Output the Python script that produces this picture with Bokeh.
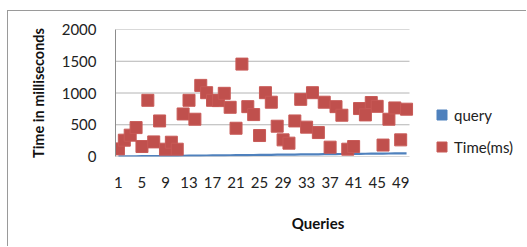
from bokeh.plotting import figure
from bokeh.models import FixedTicker, Legend, LegendItem, ColumnDataSource
from bokeh.embed import file_html
from bokeh.resources import INLINE

queries = list(range(1, 51))
query_vals = list(range(1, 51))
time_ms = [120, 257, 336, 455, 157, 885, 230, 560, 115, 225,
           115, 670, 885, 587, 1120, 1005, 885, 880, 995, 775,
           445, 1455, 785, 660, 330, 1005, 855, 477, 262, 210,
           560, 900, 462, 1005, 377, 855, 147, 785, 650, 115,
           157, 755, 655, 850, 790, 180, 587, 765, 262, 745]
x_ticks = list(range(1, 51, 4))
y_ticks = [0, 500, 1000, 1500, 2000]

FONT = "Lato"
N = len(queries)
X0, X1 = 0.5, N + 0.5
PLOT_W = 294   # width of the category area
FRAME_W = 405  # frame extends right to hold the legend
x_end = X0 + N * FRAME_W / PLOT_W

p = figure(width=519, height=236, output_backend="svg", toolbar_location=None,
           x_range=(X0, x_end), y_range=(0, 2000),
           min_border_left=107, min_border_right=7, min_border_top=18, min_border_bottom=91)
p.styles = {"margin-left": "7px", "margin-top": "10px",
            "border-left": "1px solid #9a9a9a", "border-top": "1px solid #9a9a9a"}
p.outline_line_color = None
p.background_fill_color = "white"
p.border_fill_color = "white"
p.xgrid.grid_line_color = None
p.ygrid.grid_line_color = None

# horizontal gridlines limited to the category area
p.segment(x0=[X0] * len(y_ticks), y0=y_ticks, x1=[X1] * len(y_ticks), y1=y_ticks,
          line_color="#b4b4b4", line_width=1)

src = ColumnDataSource(dict(x=queries, q=query_vals, t=time_ms))

p.line("x", "q", source=src, line_color="#4f81bd", line_width=2.2)
q_leg = p.scatter("x", "q", source=src, marker="square", size=0,
                  fill_color="#4f81bd", line_color="#4f81bd")
t_r = p.scatter("x", "t", source=src, marker="square", size=12,
                fill_color="#c0504d", line_color="#c85a57", line_width=1)

p.xaxis.ticker = FixedTicker(ticks=x_ticks)
p.yaxis.ticker = FixedTicker(ticks=y_ticks)

for ax in (p.xaxis[0], p.yaxis[0]):
    ax.major_tick_line_color = None
    ax.minor_tick_line_color = None
    ax.major_label_text_font = FONT
    ax.major_label_text_font_size = "15px"
    ax.major_label_text_color = "#222222"
    ax.axis_label_text_font = FONT
    ax.axis_label_text_font_style = "bold"
    ax.axis_label_text_color = "#111111"
p.xaxis.axis_line_color = None
p.yaxis.axis_line_color = "#8c8c8c"

p.xaxis.major_label_standoff = 14
p.yaxis.major_label_standoff = 13
p.xaxis.axis_label = "Queries"
p.yaxis.axis_label = "Time in milliseconds"
p.xaxis.axis_label_text_font_size = "15px"
p.yaxis.axis_label_text_font_size = "14.5px"
p.xaxis.axis_label_standoff = 23
p.yaxis.axis_label_standoff = 12

legend = Legend(items=[LegendItem(label="query", renderers=[q_leg]),
                       LegendItem(label="Time(ms)", renderers=[t_r])],
                location=(314, -3), glyph_width=25, glyph_height=25,
                label_standoff=-10, spacing=7, padding=0, margin=0,
                label_text_font=FONT, label_text_font_size="15px",
                label_text_color="#222222",
                border_line_color=None, background_fill_alpha=0)
p.add_layout(legend, "center")

open("out.html", "w").write(file_html(p, INLINE))
